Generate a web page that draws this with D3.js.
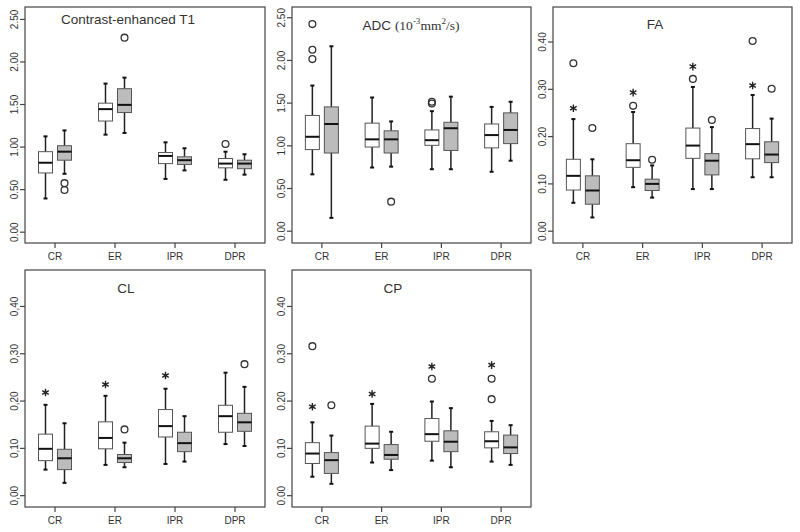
<!DOCTYPE html>
<html>
<head>
<meta charset="utf-8">
<script src="https://cdn.jsdelivr.net/npm/d3@7"></script>
<style>
  html, body { margin: 0; padding: 0; background: #fff; }
  svg { display: block; }
  text { font-family: "Liberation Sans", Arial, sans-serif; fill: #333; }
</style>
</head>
<body>
<svg id="chart" width="800" height="532"></svg>
<script>
// ---------- DATA ----------
const categories = ["CR", "ER", "IPR", "DPR"];
// each box: [lowerWhisker, Q1, median, Q3, upperWhisker]
const t1White = [[0.39,0.69,0.81,0.94,1.12],[1.14,1.30,1.44,1.51,1.74],[0.62,0.80,0.89,0.93,1.05],[0.61,0.75,0.80,0.86,0.94]];
const t1Gray  = [[0.68,0.84,0.94,1.01,1.19],[1.16,1.40,1.49,1.68,1.81],[0.72,0.79,0.84,0.88,0.98],[0.67,0.74,0.80,0.84,0.91]];
const t1WhiteOut = [[],[],[],[1.03]];
const t1GrayOut  = [[0.57,0.49],[2.28],[],[]];
const t1Stars = [null,null,null,null];

const adcWhite = [[0.66,0.95,1.10,1.35,1.70],[0.74,0.98,1.07,1.26,1.56],[0.72,1.00,1.06,1.18,1.40],[0.69,0.97,1.12,1.25,1.45]];
const adcGray  = [[0.15,0.91,1.25,1.45,2.16],[0.75,0.91,1.07,1.17,1.28],[0.72,0.94,1.20,1.27,1.57],[0.82,1.02,1.18,1.38,1.51]];
const adcWhiteOut = [[2.42,2.12,2.01],[],[1.51,1.49],[]];
const adcGrayOut  = [[],[0.34],[],[]];
const adcStars = [null,null,null,null];

const faWhite = [[0.059,0.086,0.116,0.151,0.236],[0.092,0.134,0.149,0.184,0.251],[0.088,0.153,0.180,0.217,0.304],[0.113,0.152,0.183,0.216,0.287]];
const faGray  = [[0.028,0.056,0.085,0.116,0.151],[0.070,0.085,0.099,0.109,0.138],[0.088,0.118,0.148,0.163,0.219],[0.113,0.144,0.161,0.188,0.237]];
const faWhiteOut = [[0.354],[0.264],[0.321],[0.401]];
const faGrayOut  = [[0.217],[0.150],[0.234],[0.300]];
const faStars = [0.259,0.292,0.347,0.307];

const clWhite = [[0.054,0.073,0.098,0.129,0.191],[0.064,0.098,0.121,0.155,0.210],[0.066,0.123,0.146,0.181,0.225],[0.108,0.133,0.167,0.190,0.259]];
const clGray  = [[0.026,0.054,0.078,0.097,0.152],[0.059,0.069,0.078,0.086,0.111],[0.071,0.092,0.110,0.133,0.167],[0.104,0.135,0.154,0.173,0.229]];
const clWhiteOut = [[],[],[],[]];
const clGrayOut  = [[],[0.139],[],[0.277]];
const clStars = [0.217,0.234,0.253,null];

const cpWhite = [[0.039,0.067,0.088,0.111,0.154],[0.069,0.099,0.109,0.146,0.193],[0.073,0.114,0.129,0.162,0.198],[0.071,0.100,0.114,0.134,0.157]];
const cpGray  = [[0.024,0.046,0.074,0.090,0.126],[0.053,0.076,0.085,0.107,0.134],[0.059,0.092,0.113,0.136,0.184],[0.064,0.088,0.101,0.127,0.148]];
const cpWhiteOut = [[0.315],[],[0.246],[0.246,0.203]];
const cpGrayOut  = [[0.190],[],[],[]];
const cpStars = [0.187,0.214,0.272,0.275];

const ticksLarge = [0, 0.5, 1.0, 1.5, 2.0, 2.5];
const ticksSmall = [0, 0.1, 0.2, 0.3, 0.4];

// ---------- DRAW ----------
const svg = d3.select("#chart");

function drawPanel(cfg) {
  const g = svg.append("g");
  const x = d3.scaleBand().domain(categories).range([cfg.left, cfg.right]).padding(0);
  const y = d3.scaleLinear().domain(cfg.domain).range([cfg.bottom, cfg.top]);
  const cx = c => x(c) + x.bandwidth() / 2;
  const off = 9.5, bw = 14;

  // frame
  g.append("rect").attr("x", cfg.left).attr("y", cfg.top)
    .attr("width", cfg.right - cfg.left).attr("height", cfg.bottom - cfg.top)
    .attr("fill", "none").attr("stroke", "#444").attr("stroke-width", 1.2);

  // y axis
  const yAxis = d3.axisLeft(y).tickValues(cfg.ticks).tickSize(5).tickFormat(cfg.fmt);
  const ya = g.append("g").attr("transform", `translate(${cfg.left},0)`).call(yAxis);
  ya.select(".domain").remove();
  ya.selectAll(".tick line").attr("stroke", "#444").attr("stroke-width", 1.2);
  ya.selectAll(".tick text")
    .attr("x", 0).attr("dy", null)
    .attr("transform", "translate(-11,0) rotate(-90)")
    .attr("text-anchor", "middle").attr("dy", "0.35em")
    .style("font-size", "10px").style("font-family", "'Liberation Sans', Arial, sans-serif")
    .attr("fill", "#444");

  // x axis
  const xAxis = d3.axisBottom(x).tickSize(5);
  const xa = g.append("g").attr("transform", `translate(0,${cfg.bottom})`).call(xAxis);
  xa.select(".domain").remove();
  xa.selectAll(".tick line").attr("stroke", "#444").attr("stroke-width", 1.2);
  xa.selectAll(".tick text").attr("y", 10)
    .style("font-size", "10px").style("font-family", "'Liberation Sans', Arial, sans-serif")
    .attr("fill", "#333");

  // boxes
  function boxes(data, outs, dx, fill) {
    categories.forEach((c, i) => {
      const d = data[i];
      const xc = cx(c) + dx;
      const bg = g.append("g");
      // whiskers
      bg.append("line").attr("x1", xc).attr("x2", xc).attr("y1", y(d[4])).attr("y2", y(d[3]))
        .attr("stroke", "#222").attr("stroke-width", 1.5);
      bg.append("line").attr("x1", xc).attr("x2", xc).attr("y1", y(d[1])).attr("y2", y(d[0]))
        .attr("stroke", "#222").attr("stroke-width", 1.5);
      [d[0], d[4]].forEach(v => {
        bg.append("line").attr("x1", xc - 2).attr("x2", xc + 2).attr("y1", y(v)).attr("y2", y(v))
          .attr("stroke", "#111").attr("stroke-width", 2);
      });
      // box
      bg.append("rect").attr("x", xc - bw / 2).attr("y", y(d[3]))
        .attr("width", bw).attr("height", y(d[1]) - y(d[3]))
        .attr("fill", fill).attr("stroke", "#555").attr("stroke-width", 1);
      // median
      bg.append("line").attr("x1", xc - bw / 2).attr("x2", xc + bw / 2)
        .attr("y1", y(d[2])).attr("y2", y(d[2]))
        .attr("stroke", "#111").attr("stroke-width", 2);
      // outliers
      outs[i].forEach(v => {
        bg.append("circle").attr("cx", xc).attr("cy", y(v)).attr("r", 3.4)
          .attr("fill", "none").attr("stroke", "#333").attr("stroke-width", 1.3);
      });
    });
  }
  boxes(cfg.white, cfg.whiteOut, -off, "#ffffff");
  boxes(cfg.gray, cfg.grayOut, off, "#bcbcbc");

  // extreme-value stars
  const star = d3.symbolAsterisk ? d3.symbol().type(d3.symbolAsterisk).size(40) : null;
  categories.forEach((c, i) => {
    const v = cfg.stars[i];
    if (v == null) return;
    const xc = cx(c) - off;
    if (star) {
      g.append("path").attr("d", star()).attr("transform", `translate(${xc},${y(v)})`)
        .attr("fill", "none").attr("stroke", "#222").attr("stroke-width", 1.4);
    } else {
      g.append("text").attr("x", xc).attr("y", y(v) + 6).attr("text-anchor", "middle")
        .style("font-size", "14px").text("*");
    }
  });

  // title
  cfg.title(g);
}

drawPanel({
  left: 25, right: 265, top: 7, bottom: 243, domain: [-0.133, 2.64],
  ticks: ticksLarge, fmt: d3.format(".2f"),
  white: t1White, gray: t1Gray, whiteOut: t1WhiteOut, grayOut: t1GrayOut, stars: t1Stars,
  title: g => g.append("text").attr("x", 128).attr("y", 24).attr("text-anchor", "middle")
    .style("font-size", "13.5px").text("Contrast-enhanced T1")
});

drawPanel({
  left: 292, right: 531, top: 7, bottom: 243, domain: [-0.144, 2.62],
  ticks: ticksLarge, fmt: d3.format(".2f"),
  white: adcWhite, gray: adcGray, whiteOut: adcWhiteOut, grayOut: adcGrayOut, stars: adcStars,
  title: g => {
    const t = g.append("text").attr("x", 411).attr("y", 30).attr("text-anchor", "middle")
      .style("font-size", "13.5px");
    t.append("tspan").text("ADC ");
    const serif = "'Liberation Serif', 'Times New Roman', serif";
    t.append("tspan").style("font-family", serif).text("(10");
    t.append("tspan").style("font-family", serif).style("font-size", "9px").attr("dy", -6).text("-3");
    t.append("tspan").style("font-family", serif).attr("dy", 6).text("mm");
    t.append("tspan").style("font-family", serif).style("font-size", "9px").attr("dy", -6).text("2");
    t.append("tspan").style("font-family", serif).attr("dy", 6).text("/s)");
  }
});

drawPanel({
  left: 553, right: 792, top: 7, bottom: 243, domain: [-0.026, 0.473],
  ticks: ticksSmall, fmt: d3.format(".2f"),
  white: faWhite, gray: faGray, whiteOut: faWhiteOut, grayOut: faGrayOut, stars: faStars,
  title: g => g.append("text").attr("x", 655).attr("y", 29).attr("text-anchor", "middle")
    .style("font-size", "13.5px").text("FA")
});

drawPanel({
  left: 25, right: 265, top: 270, bottom: 507, domain: [-0.025, 0.476],
  ticks: ticksSmall, fmt: v => d3.format(".2f")(v).replace(".", ","),
  white: clWhite, gray: clGray, whiteOut: clWhiteOut, grayOut: clGrayOut, stars: clStars,
  title: g => g.append("text").attr("x", 126).attr("y", 293).attr("text-anchor", "middle")
    .style("font-size", "13.5px").text("CL")
});

drawPanel({
  left: 292, right: 531, top: 270, bottom: 507, domain: [-0.025, 0.476],
  ticks: ticksSmall, fmt: d3.format(".2f"),
  white: cpWhite, gray: cpGray, whiteOut: cpWhiteOut, grayOut: cpGrayOut, stars: cpStars,
  title: g => g.append("text").attr("x", 393).attr("y", 293).attr("text-anchor", "middle")
    .style("font-size", "13.5px").text("CP")
});
</script>
</body>
</html>
